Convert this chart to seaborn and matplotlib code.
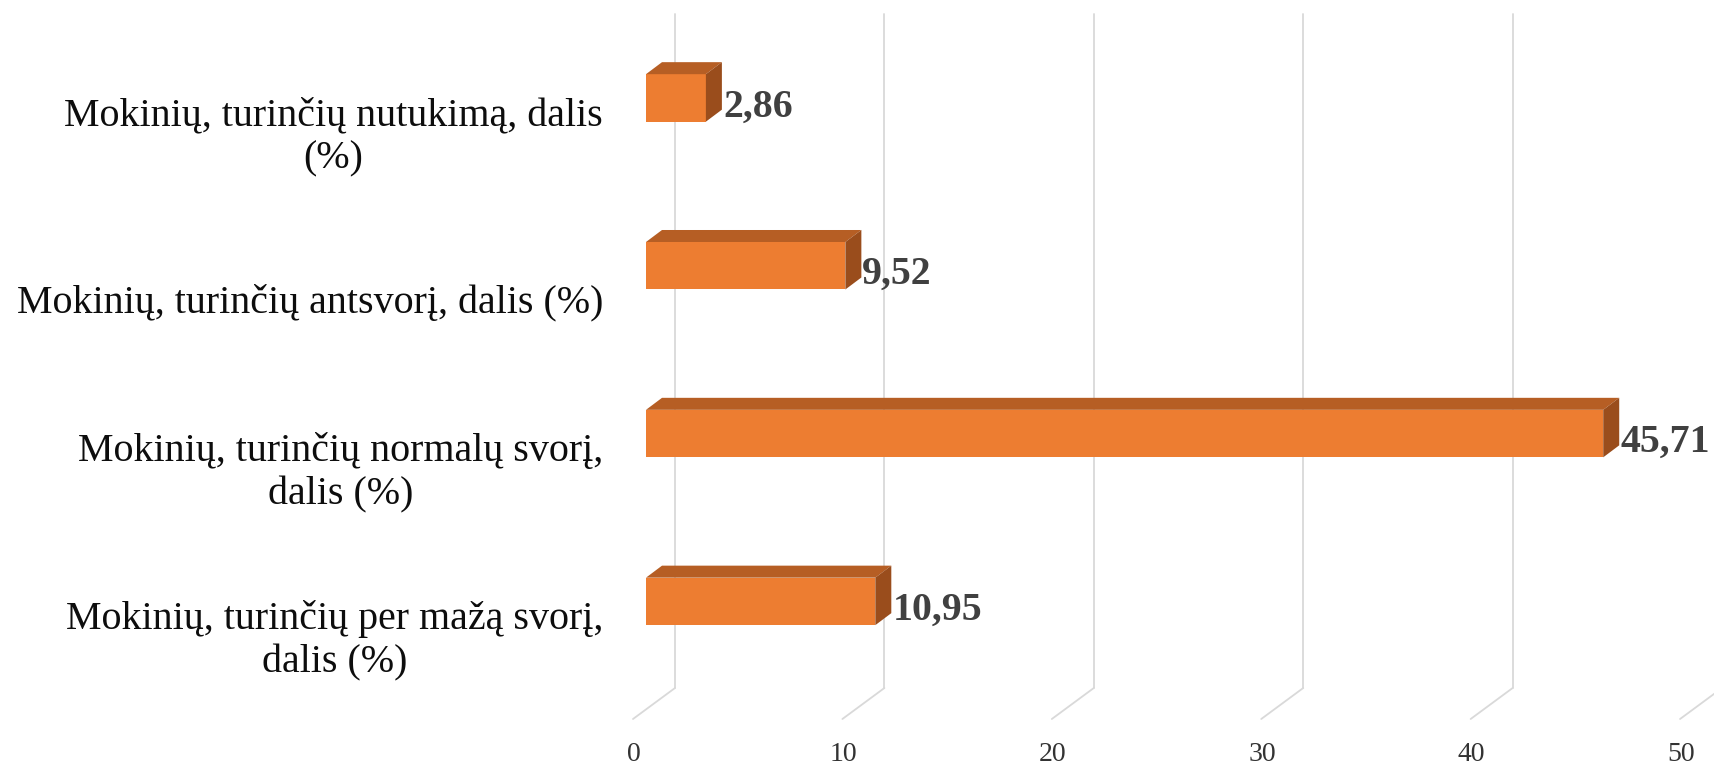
import matplotlib
matplotlib.use('Agg')
import matplotlib.pyplot as plt
import seaborn as sns
import pandas as pd
from matplotlib.patches import Polygon
from matplotlib.lines import Line2D
from matplotlib.transforms import ScaledTranslation

categories = ["Mokinių, turinčių nutukimą, dalis\n(%)",
              "Mokinių, turinčių antsvorį, dalis (%)",
              "Mokinių, turinčių normalų svorį,\ndalis (%)",
              "Mokinių, turinčių per mažą svorį,\ndalis (%)"]
values = [2.86, 9.52, 45.71, 10.95]
value_labels = ["2,86", "9,52", "45,71", "10,95"]
x_ticks = [0, 10, 20, 30, 40, 50]
x_tick_labels = ["0", "10", "20", "30", "40", "50"]

sns.set_style('white')
plt.rcParams['font.family'] = ['Liberation Serif', 'DejaVu Serif']

W, H = 1714, 765
DPI = 100
fig = plt.figure(figsize=(W / DPI, H / DPI), dpi=DPI)
fig.patch.set_facecolor('white')
ax = fig.add_axes([646 / W, (H - 688) / H, 1068 / W, (688 - 14) / H])
ax.set_facecolor('none')

df = pd.DataFrame({'cat': categories, 'val': values})
sns.barplot(data=df, x='val', y='cat', orient='h', color='#ED7D31',
            width=0.283, saturation=1, ax=ax, zorder=3, edgecolor='none')
ax.set_xlim(0, 51)
ax.set_ylim(3.516, -0.5)
for s in ax.spines.values():
    s.set_visible(False)

# pixel -> data conversions
def px_dx(px):
    a = ax.transData.transform((0, 0))[0]
    b = ax.transData.transform((1, 0))[0]
    return px / (b - a)

def px_dy(px):
    a = ax.transData.transform((0, 0))[1]
    b = ax.transData.transform((0, 1))[1]
    return px / abs(b - a)

# 3D faces of bars
ddx, ddy = px_dx(16), px_dy(12)
top_col, side_col = '#B65E24', '#9A4D1C'
for p in list(ax.patches):
    x0, y0, w, h = p.get_x(), p.get_y(), p.get_width(), p.get_height()
    top = Polygon([(x0, y0), (x0 + w, y0), (x0 + w + ddx, y0 - ddy), (x0 + ddx, y0 - ddy)],
                  closed=True, facecolor=top_col, edgecolor='none', zorder=3)
    side = Polygon([(x0 + w, y0), (x0 + w + ddx, y0 - ddy), (x0 + w + ddx, y0 + h - ddy), (x0 + w, y0 + h)],
                   closed=True, facecolor=side_col, edgecolor='none', zorder=3)
    ax.add_patch(top)
    ax.add_patch(side)

# gridlines on back wall + floor diagonals
ytop, ybot = -0.5, 3.516
gdx = px_dx(29)
fdx, fdy = px_dx(13), px_dy(31)
for v in x_ticks:
    ax.add_line(Line2D([v + gdx, v + gdx], [ytop, ybot], color='#D9D9D9', lw=1.3,
                       zorder=1, clip_on=False))
    ax.add_line(Line2D([v + gdx, v - fdx], [ybot, ybot + fdy], color='#D9D9D9', lw=1.3,
                       zorder=1, clip_on=False))

# x tick labels
ax.set_xticks(x_ticks)
ax.set_xticklabels(x_tick_labels)
ax.tick_params(axis='x', length=0, pad=39, labelsize=20, labelcolor='#333333')
for lbl in ax.get_xticklabels():
    lbl.set_transform(lbl.get_transform() + ScaledTranslation(-12 / DPI, 0, fig.dpi_scale_trans))

# y tick labels
ax.set_ylabel('')
ax.set_xlabel('')
ax.tick_params(axis='y', length=0, pad=31, labelsize=28.8, labelcolor='#0d0d0d')
for lbl in ax.get_yticklabels():
    lbl.set_multialignment('center')
    lbl.set_linespacing(1.22)
    lbl.set_transform(lbl.get_transform() + ScaledTranslation(0, -32 / DPI, fig.dpi_scale_trans))

# data labels
for i, (v, t) in enumerate(zip(values, value_labels)):
    ax.annotate(t, xy=(v, i), xytext=(17 * 0.72, -9 * 0.72), textcoords='offset points',
                fontsize=28.7, fontweight='bold', color='#404040', va='center', ha='left',
                annotation_clip=False, zorder=5)

fig.savefig('out.png', dpi=DPI)
